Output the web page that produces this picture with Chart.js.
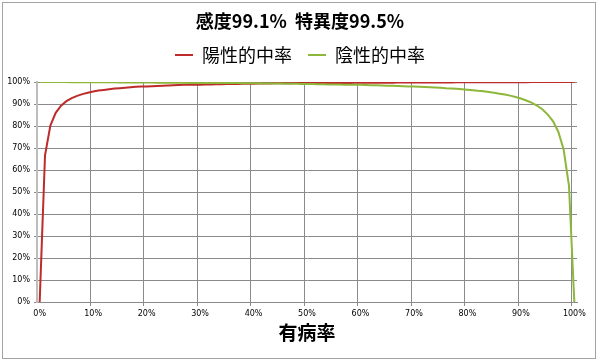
<!DOCTYPE html>
<html>
<head>
<meta charset="utf-8">
<script src="https://cdn.jsdelivr.net/npm/chart.js@4/dist/chart.umd.min.js"></script>
<style>
  body { margin: 0; background: #fff; }
</style>
</head>
<body>
<canvas id="chart" width="600" height="363"></canvas>
<script>
// prevalence (%) along the x axis
const prevalence = [
  0, 1, 2, 3, 4, 5, 6, 7, 8, 9, 10, 11, 12, 13, 14, 15, 16, 17, 18, 19,
  20, 21, 22, 23, 24, 25, 26, 27, 28, 29, 30, 31, 32, 33, 34, 35, 36, 37, 38, 39,
  40, 41, 42, 43, 44, 45, 46, 47, 48, 49, 50, 51, 52, 53, 54, 55, 56, 57, 58, 59,
  60, 61, 62, 63, 64, 65, 66, 67, 68, 69, 70, 71, 72, 73, 74, 75, 76, 77, 78, 79,
  80, 81, 82, 83, 84, 85, 86, 87, 88, 89, 90, 91, 92, 93, 94, 95, 96, 97, 98, 99, 100
];

// 陽性的中率 (%)
const ppv = [
  0, 66.7, 80.2, 86.0, 89.2, 91.3, 92.7, 93.7, 94.5, 95.1,
  95.7, 96.1, 96.4, 96.7, 97.0, 97.2, 97.4, 97.6, 97.8, 97.9,
  98.0, 98.1, 98.2, 98.3, 98.4, 98.5, 98.6, 98.7, 98.7, 98.8,
  98.8, 98.9, 98.9, 99.0, 99.0, 99.1, 99.1, 99.1, 99.2, 99.2,
  99.2, 99.3, 99.3, 99.3, 99.4, 99.4, 99.4, 99.4, 99.5, 99.5,
  99.5, 99.5, 99.5, 99.6, 99.6, 99.6, 99.6, 99.6, 99.6, 99.7,
  99.7, 99.7, 99.7, 99.7, 99.7, 99.7, 99.7, 99.8, 99.8, 99.8,
  99.8, 99.8, 99.8, 99.8, 99.8, 99.8, 99.8, 99.8, 99.9, 99.9,
  99.9, 99.9, 99.9, 99.9, 99.9, 99.9, 99.9, 99.9, 99.9, 99.9,
  99.9, 99.9, 100, 100, 100, 100, 100, 100, 100, 100,
  100
];

// 陰性的中率 (%)
const npv = [
  100, 100, 100, 100, 100, 100, 99.9, 99.9, 99.9, 99.9,
  99.9, 99.9, 99.9, 99.9, 99.9, 99.8, 99.8, 99.8, 99.8, 99.8,
  99.8, 99.8, 99.7, 99.7, 99.7, 99.7, 99.7, 99.7, 99.6, 99.6,
  99.6, 99.6, 99.6, 99.6, 99.5, 99.5, 99.5, 99.5, 99.4, 99.4,
  99.4, 99.4, 99.3, 99.3, 99.3, 99.3, 99.2, 99.2, 99.2, 99.1,
  99.1, 99.1, 99.0, 99.0, 98.9, 98.9, 98.9, 98.8, 98.8, 98.7,
  98.7, 98.6, 98.5, 98.5, 98.4, 98.3, 98.3, 98.2, 98.1, 98.0,
  97.9, 97.8, 97.7, 97.6, 97.5, 97.4, 97.2, 97.1, 96.9, 96.7,
  96.5, 96.3, 96.0, 95.8, 95.5, 95.1, 94.7, 94.3, 93.8, 93.2,
  92.5, 91.6, 90.6, 89.3, 87.6, 85.3, 82.2, 77.4, 69.3, 52.8,
  0
];

const seriesNames = ['陽性的中率', '陰性的中率'];
const seriesColors = ['#be2b2b', '#8db73a'];
const titleText = '感度99.1%  特異度99.5%';
const xTitle = '有病率';

const gridGray = '#8a8a8a';
const cjk = '"Noto Sans CJK JP", "Noto Sans CJK SC", sans-serif';
const tickFont = { family: '"DejaVu Sans", Verdana, sans-serif', size: 8 };

// outer chart-area frame like the spreadsheet export
const framePlugin = {
  id: 'frame',
  beforeDraw(chart) {
    const ctx = chart.ctx;
    ctx.save();
    ctx.fillStyle = '#fff';
    ctx.fillRect(0, 0, chart.width, chart.height);
    ctx.strokeStyle = '#a3a3a3';
    ctx.lineWidth = 1;
    ctx.strokeRect(2.5, 2.5, 593, 356);
    ctx.restore();
  }
};

// a little extra room under the legend row
const legendGap = {
  id: 'legendGap',
  beforeUpdate(chart) {
    const lg = chart.legend;
    if (lg && !lg._gapSet) {
      const baseFit = lg.fit;
      lg.fit = function () {
        baseFit.call(this);
        this.height += 8;
      };
      lg._gapSet = true;
    }
  }
};

Chart.defaults.font.family = cjk;
Chart.defaults.color = '#000';

new Chart(document.getElementById('chart'), {
  type: 'line',
  data: {
    labels: prevalence.map(v => v + '%'),
    datasets: [
      {
        label: seriesNames[0],
        data: ppv,
        borderColor: seriesColors[0],
        backgroundColor: seriesColors[0],
        borderWidth: 2,
        pointRadius: 0,
        tension: 0,
        order: 1
      },
      {
        label: seriesNames[1],
        data: npv,
        borderColor: seriesColors[1],
        backgroundColor: seriesColors[1],
        borderWidth: 2,
        pointRadius: 0,
        tension: 0,
        order: 0   // green drawn over red, as in the original
      }
    ]
  },
  options: {
    responsive: false,
    animation: false,
    devicePixelRatio: 1,
    layout: { padding: 0 },
    plugins: {
      tooltip: { enabled: false },
      title: {
        display: true,
        text: titleText,
        color: '#000',
        font: { family: cjk, size: 18, weight: 'bold', lineHeight: 1 },
        padding: { top: 12, bottom: 0 }
      },
      legend: {
        display: true,
        labels: {
          usePointStyle: true,
          pointStyle: 'line',
          pointStyleWidth: 18,
          padding: 16,
          color: '#000',
          font: { family: cjk, size: 18 },
          sort: (a, b) => a.datasetIndex - b.datasetIndex
        }
      }
    },
    scales: {
      x: {
        type: 'category',
        offset: true,
        grid: {
          offset: true,
          tickLength: 4,
          color: c => (c.index !== undefined && c.index > 0 && c.index % 10 === 0) ? gridGray : 'rgba(0,0,0,0)'
        },
        border: { color: gridGray, width: 1 },
        ticks: {
          autoSkip: false,
          maxRotation: 0,
          minRotation: 0,
          padding: 3,
          font: tickFont,
          color: '#000',
          callback: function (val, i) { return i % 10 === 0 ? this.getLabelForValue(val) : ''; }
        },
        title: {
          display: true,
          text: xTitle,
          color: '#000',
          font: { family: cjk, size: 19, weight: 'bold', lineHeight: 1.2 },
          padding: { top: 0, bottom: 18.6 }
        },
        afterFit(s) { s.height = 61; }
      },
      y: {
        min: 0,
        max: 100,
        grid: { color: gridGray, tickLength: 3 },
        border: { color: '#bdbdbd', width: 2 },
        ticks: {
          stepSize: 10,
          padding: 4,
          font: tickFont,
          color: '#000',
          callback: v => v + '%'
        },
        afterFit(s) { s.width = 37; }
      },
      // empty right-hand strip so the plot ends short of the frame
      yRight: {
        position: 'right',
        display: true,
        grid: { display: false },
        border: { display: false },
        ticks: { display: false },
        afterFit(s) { s.width = 23; }
      }
    }
  },
  plugins: [framePlugin, legendGap]
});
</script>
</body>
</html>
